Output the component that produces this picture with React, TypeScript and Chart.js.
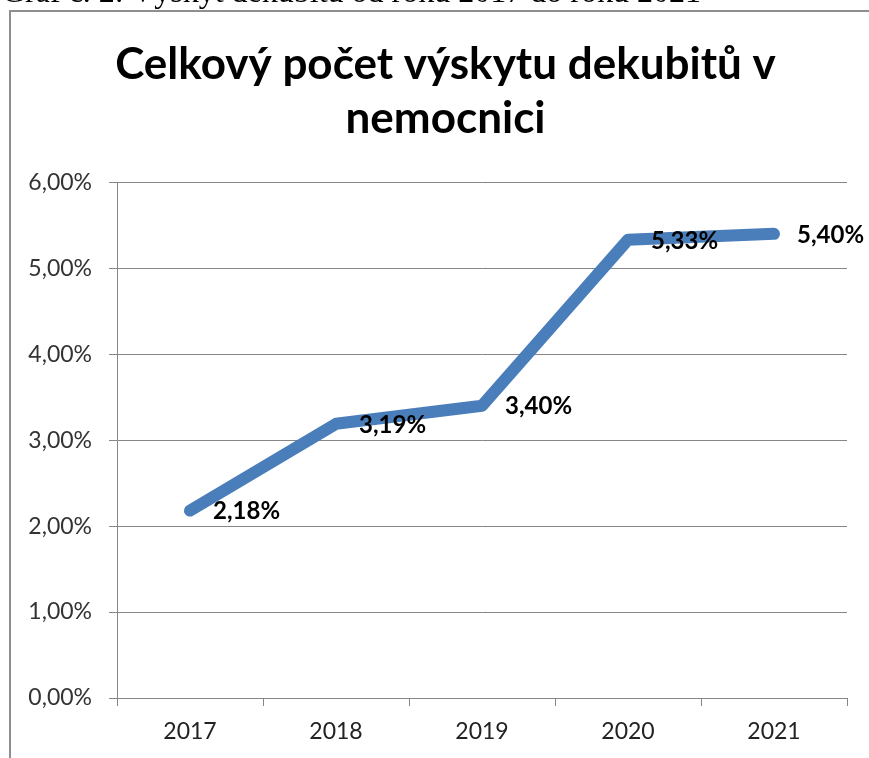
import React, { useEffect, useRef } from "react";
import { Chart, registerables } from "chart.js";

Chart.register(...registerables);

const categories = ["2017", "2018", "2019", "2020", "2021"];
const values = [2.18, 3.19, 3.4, 5.33, 5.4];
const titleLines = ["Celkový počet výskytu dekubitů v", "nemocnici"];
const captionText = "Graf č. 2: Výskyt dekubitů od roku 2017 do roku 2021";
const yMin = 0;
const yMax = 6;
const yStep = 1;

const fmt = (v: number) => v.toFixed(2).replace(".", ",") + "%";
const FONT = "Lato, 'Open Sans', sans-serif";
const GRID = "#868686";

export default function App() {
  const ref = useRef<HTMLCanvasElement | null>(null);

  useEffect(() => {
    if (!ref.current) return;
    const framePlugin = {
      id: "frame",
      beforeDraw(chart: any) {
        const ctx = chart.ctx;
        ctx.save();
        ctx.fillStyle = "#fff";
        ctx.fillRect(0, 0, chart.width, chart.height);
        ctx.strokeStyle = "#8e8e8e";
        ctx.lineWidth = 2;
        ctx.beginPath();
        ctx.moveTo(10, chart.height + 5);
        ctx.lineTo(10, 11);
        ctx.lineTo(chart.width + 5, 11);
        ctx.stroke();
        ctx.restore();
      },
    };
    const labelPlugin = {
      id: "pointLabels",
      afterDatasetsDraw(chart: any) {
        const ctx = chart.ctx;
        const meta = chart.getDatasetMeta(0);
        ctx.save();
        ctx.font = `bold 24px ${FONT}`;
        ctx.fillStyle = "#000";
        ctx.textAlign = "left";
        ctx.textBaseline = "middle";
        meta.data.forEach((pt: any, i: number) => {
          ctx.fillText(fmt(values[i]), pt.x + 23, pt.y + 1);
        });
        ctx.restore();
      },
    };
    const chart = new Chart(ref.current, {
      type: "line",
      data: {
        labels: categories,
        datasets: [
          {
            data: values,
            borderColor: "#4A7EBB",
            backgroundColor: "#4A7EBB",
            borderWidth: 12,
            borderCapStyle: "round",
            borderJoinStyle: "round",
            pointRadius: 0,
            pointHoverRadius: 0,
            tension: 0,
            fill: false,
            yAxisID: "y",
          },
        ],
      },
      options: {
        responsive: false,
        animation: false,
        layout: { padding: { left: 22, right: 0, top: 0, bottom: 0 } },
        plugins: {
          legend: { display: false },
          tooltip: { enabled: false },
          title: {
            display: true,
            text: titleLines,
            color: "#000",
            font: { family: FONT, size: 44, weight: "bold", lineHeight: 1.23 },
            padding: { top: 38, bottom: 36 },
          },
        },
        scales: {
          x: {
            offset: true,
            grid: {
              offset: true,
              drawOnChartArea: false,
              drawTicks: true,
              tickLength: 8,
              color: GRID,
            },
            border: { display: true, color: GRID },
            ticks: {
              color: "#222",
              font: { family: FONT, size: 23 },
              padding: 12,
            },
            afterFit(scale: any) {
              scale.height = 60;
            },
          },
          y: {
            min: yMin,
            max: yMax,
            grid: { color: GRID, tickLength: 8 },
            border: { display: true, color: GRID },
            ticks: {
              stepSize: yStep,
              color: "#333",
              font: { family: FONT, size: 23 },
              padding: 17,
              callback: (v: any) => fmt(Number(v)),
            },
            afterFit(scale: any) {
              scale.width = 95;
            },
          },
          yRight: {
            position: "right",
            display: true,
            grid: { display: false, drawTicks: false },
            border: { display: false },
            ticks: { display: false },
            afterFit(scale: any) {
              scale.width = 22;
            },
          },
        },
      },
      plugins: [framePlugin, labelPlugin],
    } as any);
    return () => chart.destroy();
  }, []);

  return (
    <div
      style={{
        position: "absolute",
        left: 0,
        top: 0,
        width: 869,
        height: 758,
        overflow: "hidden",
      }}
    >
      <canvas
        ref={ref}
        width={869}
        height={758}
        style={{ display: "block", position: "absolute", left: 0, top: 0, width: 869, height: 758 }}
      />
      <div
        style={{
          position: "absolute",
          left: 2,
          top: -24,
          fontFamily: "'Liberation Serif', 'Times New Roman', serif",
          fontSize: 32,
          lineHeight: "30px",
          whiteSpace: "nowrap",
          color: "#000",
        }}
      >
        {captionText}
      </div>
    </div>
  );
}
